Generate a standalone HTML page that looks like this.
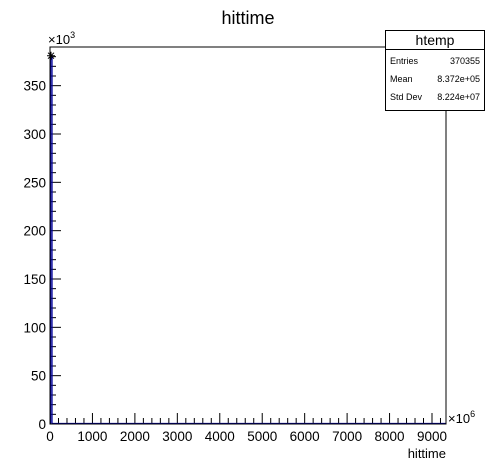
<!DOCTYPE html>
<html><head><meta charset="utf-8"><style>
html,body{margin:0;padding:0;background:#fff;width:496px;height:472px;overflow:hidden}
svg text{font-family:"Liberation Sans",sans-serif}
</style></head><body>
<svg width="496" height="472">
<text x="248" y="24" font-size="18" text-anchor="middle">hittime</text>
<g id="axes"></g>
<g id="hist"></g>
<rect x="50" y="47" width="396" height="377" fill="none" stroke="#000" stroke-width="1"/>
<g>
<rect x="385.5" y="30.5" width="99" height="80" fill="#fff" stroke="#000"/>
<line x1="385.5" y1="49.5" x2="484.5" y2="49.5" stroke="#000"/>
<text x="435" y="45" font-size="14" text-anchor="middle">htemp</text>
<text x="390" y="64" font-size="9">Entries</text>
<text x="480" y="64" font-size="9" text-anchor="end">370355</text>
<text x="390" y="82" font-size="9">Mean</text>
<text x="480" y="82" font-size="9" text-anchor="end">8.372e+05</text>
<text x="390" y="100" font-size="9">Std Dev</text>
<text x="480" y="100" font-size="9" text-anchor="end">8.224e+07</text>
</g>
<text x="48" y="44" font-size="13">×10<tspan dy="-6" font-size="9">3</tspan></text>
<text x="448" y="423" font-size="13">×10<tspan dy="-6" font-size="9">6</tspan></text>
<text x="446" y="458" font-size="13" text-anchor="end">hittime</text>
</svg>
<script>
const binEdges=[0,47];
const binCounts=[381];
const zeroEnd=9330;
const xTicks=[0,1000,2000,3000,4000,5000,6000,7000,8000,9000];
const yTicks=[0,50,100,150,200,250,300,350];
const X0=50,X1=446,Y0=424,Y1=47,XMAX=9330,YMAX=390;
const sx=v=>X0+v/XMAX*(X1-X0);
const sy=v=>Y0-v/YMAX*(Y0-Y1);
const NS="http://www.w3.org/2000/svg";
const ax=document.getElementById('axes'),hg=document.getElementById('hist');
function mk(t,a,p){const e=document.createElementNS(NS,t);for(const k in a)e.setAttribute(k,a[k]);p.appendChild(e);return e;}
for(let v=0;v<=XMAX;v+=200){const maj=v%1000===0;const l=mk('line',{x1:sx(v),x2:sx(v),y1:Y0,y2:Y0-(maj?11:6),stroke:'#000'},ax);

}
xTicks.forEach(v=>{const t=mk('text',{x:sx(v),y:441,'font-size':13.5,'text-anchor':'middle'},ax);t.textContent=v;

});
for(let v=0;v<=YMAX;v+=10){const maj=v%50===0;const l=mk('line',{x1:X0,x2:X0+(maj?11:6),y1:sy(v),y2:sy(v),stroke:'#000'},ax);

}
yTicks.forEach(v=>{const t=mk('text',{x:46,y:sy(v)+5,'font-size':13.5,'text-anchor':'end'},ax);t.textContent=v;

});
const x0=sx(binEdges[0])+0.5,x1=sx(binEdges[1]),yt=sy(binCounts[0]);
const p=mk('path',{d:`M${x0},${Y0-0.5} L${x0},${yt} L${x1},${yt} L${x1},${Y0-0.5} L${sx(zeroEnd)},${Y0-0.5}`,fill:'none',stroke:'#000099','stroke-width':1.3},hg);


const cx=(sx(binEdges[0])+sx(binEdges[1]))/2;
const m=mk('path',{d:`M${cx-4},${yt} L${cx+4},${yt} M${cx},${yt-4} L${cx},${yt+4} M${cx-3},${yt-3} L${cx+3},${yt+3} M${cx-3},${yt+3} L${cx+3},${yt-3}`,stroke:'#000','stroke-width':1},hg);


</script>
</body></html>
